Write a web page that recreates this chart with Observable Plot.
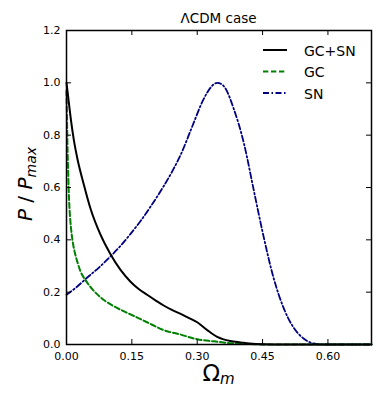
<!DOCTYPE html>
<html>
<head>
<meta charset="utf-8">
<script src="https://cdn.jsdelivr.net/npm/d3@7"></script>
<script src="https://cdn.jsdelivr.net/npm/@observablehq/plot@0.6"></script>
<style>
  html, body { margin: 0; padding: 0; background: #fff; }
  #chart { width: 382px; height: 397px; }
</style>
</head>
<body>
<div id="chart"></div>
<script>
// ---- data ----
const gcsnOmega = [0, 0.005, 0.01, 0.017, 0.025, 0.04, 0.055, 0.078, 0.101, 0.124, 0.147, 0.165, 0.185, 0.205, 0.223, 0.242, 0.262, 0.28, 0.3, 0.323, 0.346, 0.376, 0.4, 0.42, 0.45, 0.5, 0.7];
const gcsnP     = [1.0, 0.93, 0.86, 0.78, 0.71, 0.61, 0.52, 0.42, 0.345, 0.285, 0.24, 0.213, 0.19, 0.168, 0.149, 0.132, 0.117, 0.102, 0.085, 0.055, 0.029, 0.013, 0.008, 0.004, 0.001, 0, 0];

const gcOmega = [0, 0.001, 0.002, 0.004, 0.006, 0.009, 0.012, 0.015, 0.02, 0.025, 0.032, 0.044, 0.06, 0.082, 0.11, 0.147, 0.185, 0.223, 0.262, 0.3, 0.338, 0.376, 0.42, 0.45, 0.7];
const gcP     = [0.97, 0.88, 0.78, 0.65, 0.55, 0.47, 0.42, 0.385, 0.345, 0.315, 0.28, 0.245, 0.21, 0.175, 0.145, 0.115, 0.085, 0.055, 0.038, 0.02, 0.012, 0.005, 0.002, 0, 0];

const snOmega = [0, 0.02, 0.047, 0.075, 0.101, 0.124, 0.147, 0.17, 0.193, 0.223, 0.246, 0.262, 0.289, 0.311, 0.323, 0.335, 0.346, 0.356, 0.365, 0.384, 0.407, 0.43, 0.452, 0.475, 0.498, 0.521, 0.544, 0.567, 0.59, 0.7];
const snP     = [0.19, 0.215, 0.255, 0.295, 0.337, 0.377, 0.423, 0.472, 0.527, 0.605, 0.672, 0.725, 0.835, 0.925, 0.963, 0.99, 1.0, 0.995, 0.978, 0.9, 0.77, 0.588, 0.415, 0.256, 0.141, 0.065, 0.023, 0.004, 0, 0];

const xTicks = [0, 0.15, 0.30, 0.45, 0.60];
const yTicks = [0, 0.2, 0.4, 0.6, 0.8, 1.0, 1.2];
const seriesNames = ["GC+SN", "GC", "SN"];
const seriesColors = ["#000000", "#008000", "#000080"];
const seriesDash = [null, "5.3,2.7", "6,2.5,1.5,2.5"];
const titleText = "ΛCDM case";

// ---- build tables ----
const toRows = (xs, ys) => xs.map((x, i) => ({x, y: ys[i]}));
const gcsn = toRows(gcsnOmega, gcsnP);
const gc = toRows(gcOmega, gcP);
const sn = toRows(snOmega, snP);

const W = 382, H = 397, mL = 66, mR = 11, mT = 30, mB = 53;
const innerW = W - mL - mR, innerH = H - mT - mB;
const tickLen = 5;

const svg = Plot.plot({
  width: W, height: H,
  marginLeft: mL, marginRight: mR, marginTop: mT, marginBottom: mB,
  style: {fontFamily: "DejaVu Sans", fontSize: "11px", color: "#000", background: "#fff"},
  x: {domain: [0, 0.7]},
  y: {domain: [0, 1.2]},
  marks: [
    Plot.line(sn, {x: "x", y: "y", stroke: seriesColors[2], strokeWidth: 1.8, strokeDasharray: seriesDash[2], curve: "monotone-x"}),
    Plot.line(gc, {x: "x", y: "y", stroke: seriesColors[1], strokeWidth: 2, strokeDasharray: seriesDash[1], curve: "monotone-x"}),
    Plot.line(gcsn, {x: "x", y: "y", stroke: seriesColors[0], strokeWidth: 2, curve: "monotone-x"}),
    // inward ticks on all four sides
    Plot.ruleX(xTicks, {x: d => d, insetTop: innerH - tickLen, stroke: "#000"}),
    Plot.ruleX(xTicks, {x: d => d, insetBottom: innerH - tickLen, stroke: "#000"}),
    Plot.ruleY(yTicks, {y: d => d, insetRight: innerW - tickLen, stroke: "#000"}),
    Plot.ruleY(yTicks, {y: d => d, insetLeft: innerW - tickLen, stroke: "#000"}),
    Plot.axisX({ticks: xTicks, tickSize: 0, tickPadding: 8, tickFormat: d3.format(".2f"), label: null}),
    Plot.axisY({ticks: yTicks, tickSize: 0, tickPadding: 6, tickFormat: d3.format(".1f"), label: null}),
    Plot.frame({stroke: "#000", strokeWidth: 1.5})
  ]
});

const s = d3.select(svg);
// title
s.append("text")
  .attr("x", mL + innerW / 2).attr("y", 23)
  .attr("text-anchor", "middle")
  .style("font-size", "13.5px").style("font-family", "DejaVu Sans")
  .text(titleText);

// x label Ω_m
const xl = s.append("text")
  .attr("x", mL + innerW / 2).attr("y", 381)
  .attr("text-anchor", "middle")
  .style("font-family", "DejaVu Sans");
xl.append("tspan").style("font-size", "23px").text("Ω");
xl.append("tspan").attr("dy", 3).style("font-size", "15px").style("font-style", "italic").text("m");

// y label P / P_max
const yl = s.append("text")
  .attr("transform", "translate(32,184) rotate(-90)")
  .attr("text-anchor", "middle")
  .style("font-family", "DejaVu Sans");
yl.append("tspan").style("font-size", "20px").style("font-style", "italic").text("P");
yl.append("tspan").style("font-size", "20px").text(" / ");
yl.append("tspan").style("font-size", "20px").style("font-style", "italic").text("P");
yl.append("tspan").attr("dy", 4).style("font-size", "14px").style("font-style", "italic").text("max");

// legend
const legY = [50, 71.5, 93];
seriesNames.forEach((name, i) => {
  s.append("line")
    .attr("x1", 263).attr("x2", 287).attr("y1", legY[i]).attr("y2", legY[i])
    .attr("stroke", seriesColors[i]).attr("stroke-width", i === 2 ? 1.8 : 2)
    .attr("stroke-dasharray", seriesDash[i]);
  s.append("text")
    .attr("x", 304).attr("y", legY[i] + 5.5)
    .attr("text-anchor", "start")
    .style("font-size", "14px").style("font-family", "DejaVu Sans")
    .text(name);
});

document.getElementById("chart").appendChild(svg);
</script>
</body>
</html>
